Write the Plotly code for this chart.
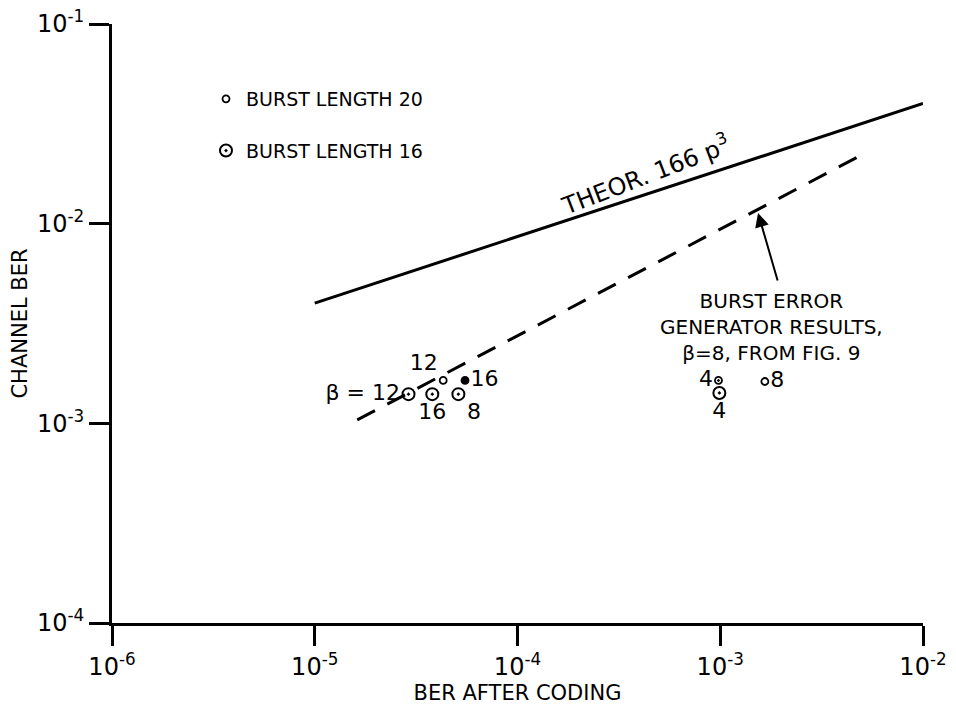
import plotly.graph_objects as go

# ---------------- data ----------------
x_tick_vals = [1e-6, 1e-5, 1e-4, 1e-3, 1e-2]
x_tick_text = ["10<sup>-6</sup>", "10<sup>-5</sup>", "10<sup>-4</sup>", "10<sup>-3</sup>", "10<sup>-2</sup>"]
y_tick_vals = [1e-4, 1e-3, 1e-2, 1e-1]
y_tick_text = ["10<sup>-4</sup>", "10<sup>-3</sup>", "10<sup>-2</sup>", "10<sup>-1</sup>"]

# theoretical curve 166 p^3 (straight line on log-log)
theor_x = [1e-5, 1e-2]
theor_y = [4.0e-3, 4.0e-2]

# burst error generator results, beta = 8 (dashed)
gen_x = [1.62e-5, 5.2e-3]
gen_y = [1.04e-3, 2.26e-2]

# burst length 16 points
b16_x = [2.90e-5, 3.80e-5, 5.11e-5, 9.9e-4]
b16_y = [1.40e-3, 1.40e-3, 1.40e-3, 1.42e-3]
b16_labels = ["β = 12", "16", "8", "4"]

# burst length 20 points
b20_x = [4.30e-5, 5.51e-5, 9.8e-4, 1.66e-3]
b20_y = [1.64e-3, 1.64e-3, 1.64e-3, 1.62e-3]
b20_labels = ["12", "16", "4", "8"]

# ---------------- styling ----------------
FONT = "DejaVu Sans, Liberation Sans, Arial, sans-serif"
b16_textpos = ["middle left", "bottom center", "bottom right", "bottom center"]
b20_textpos = ["top left", "middle right", "middle left", "middle right"]
b20_symbols = ["circle-open", "circle", "circle-open-dot", "circle-open"]

fig = go.Figure()

fig.add_trace(go.Scatter(
    x=theor_x, y=theor_y, mode="lines",
    line=dict(color="black", width=3), showlegend=False, hoverinfo="skip"))

fig.add_trace(go.Scatter(
    x=gen_x, y=gen_y, mode="lines",
    line=dict(color="black", width=3, dash="20px,14px"), showlegend=False, hoverinfo="skip"))

fig.add_trace(go.Scatter(
    x=b20_x, y=b20_y, mode="markers+text", name="BURST LENGTH 20",
    text=b20_labels, textposition=b20_textpos,
    textfont=dict(family=FONT, size=22, color="black"),
    marker=dict(symbol=b20_symbols, size=7, color="black", line=dict(color="black", width=1.8)),
    legendgroup="g20", showlegend=True))

fig.add_trace(go.Scatter(
    x=b16_x, y=b16_y, mode="markers+text", name="BURST LENGTH 16",
    text=b16_labels, textposition=b16_textpos,
    textfont=dict(family=FONT, size=22, color="black"),
    marker=dict(symbol="circle-open-dot", size=12, color="black", line=dict(color="black", width=2)),
    legendgroup="g16", showlegend=True))

axis_common = dict(
    type="log", showline=True, linewidth=3, linecolor="black",
    ticks="outside", ticklen=20, tickwidth=3, tickcolor="black",
    showgrid=False, zeroline=False, mirror=False,
    tickfont=dict(family=FONT, size=24, color="black"),
)

fig.update_xaxes(
    **axis_common, range=[-6, -2], tickvals=x_tick_vals, ticktext=x_tick_text,
    title=dict(text="BER AFTER CODING", font=dict(family=FONT, size=21, color="black"), standoff=6))
fig.update_yaxes(
    **axis_common, range=[-4, -1], tickvals=y_tick_vals, ticktext=y_tick_text,
    title=dict(text="CHANNEL BER", font=dict(family=FONT, size=21, color="black"), standoff=4))

annotations = [
    dict(text="THEOR. 166 p<sup>3</sup>", xref="paper", yref="paper",
         x=0.657, y=0.75, xanchor="center", yanchor="middle",
         showarrow=False, textangle=-21,
         font=dict(family=FONT, size=24, color="black")),
    dict(text="BURST ERROR<br>GENERATOR RESULTS,<br>β=8, FROM FIG. 9",
         xref="paper", yref="paper", x=0.8126, y=0.494,
         xanchor="center", yanchor="middle", showarrow=False, align="center",
         font=dict(family=FONT, size=20, color="black")),
    dict(text="", xref="paper", yref="paper", x=0.7966, y=0.6845,
         showarrow=True, ax=20, ay=69, axref="pixel", ayref="pixel",
         arrowhead=2, arrowsize=1.4, arrowwidth=2, arrowcolor="black"),
]

fig.update_layout(
    width=956, height=716,
    margin=dict(l=112, r=33, t=24, b=93, autoexpand=False),
    paper_bgcolor="white", plot_bgcolor="white",
    annotations=annotations,
    legend=dict(x=0.1159, y=0.9065, xanchor="left", yanchor="top",
                traceorder="grouped", tracegroupgap=24,
                font=dict(family=FONT, size=19, color="black"),
                bgcolor="rgba(0,0,0,0)"),
)

fig.write_html("out.html", config={"displayModeBar": False},
               post_script="document.body.style.margin='0';")
